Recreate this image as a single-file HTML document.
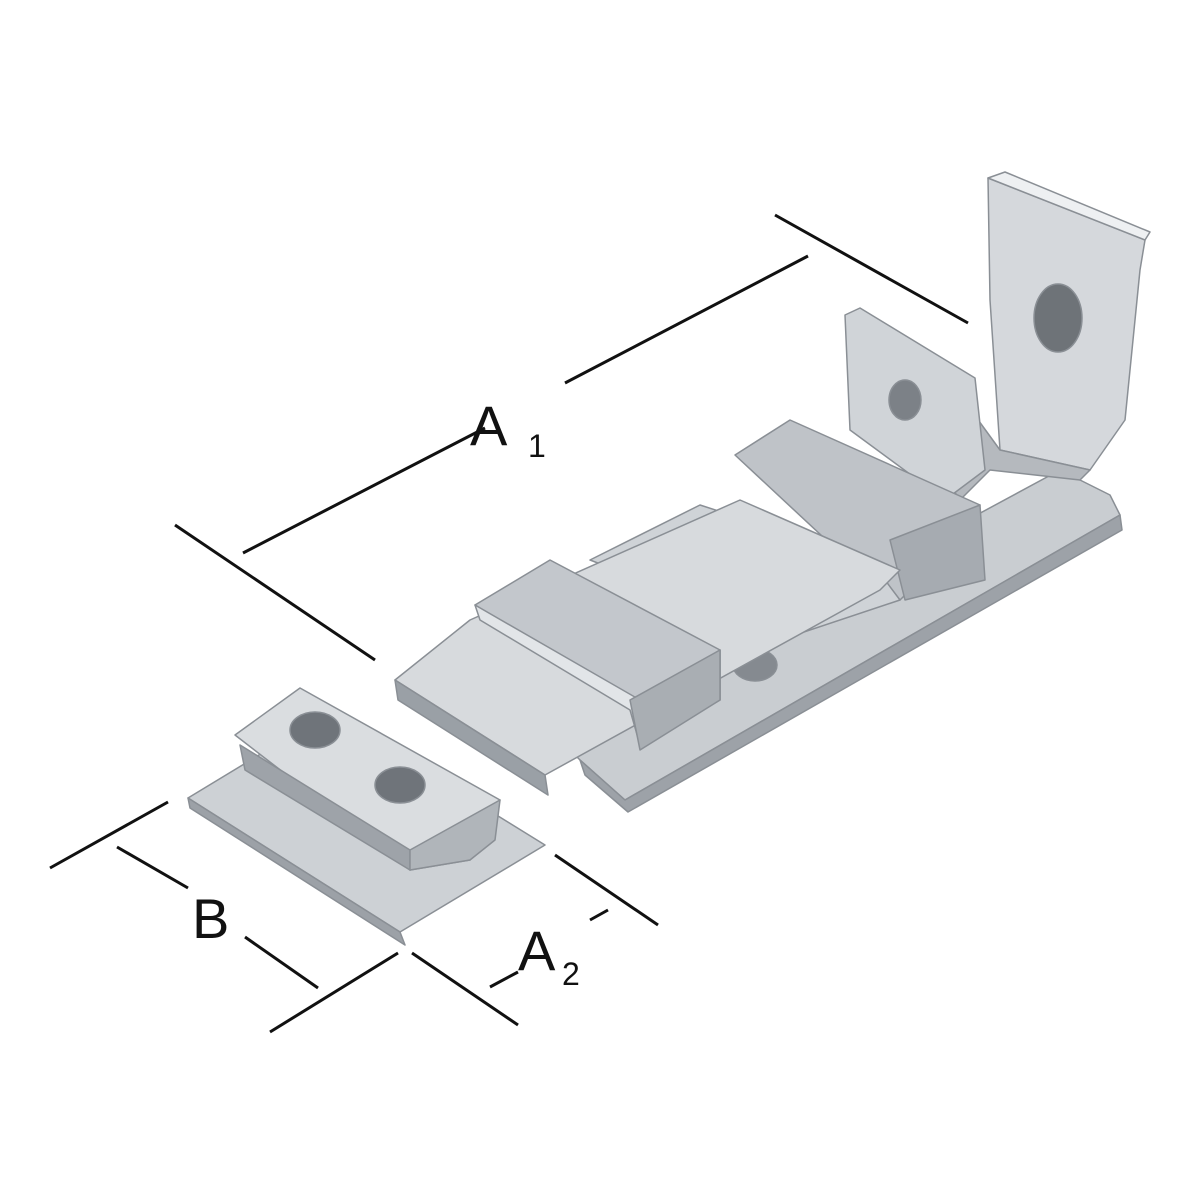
<!DOCTYPE html>
<html><head><meta charset="utf-8"><style>
html,body{margin:0;padding:0;background:#fff;}
svg{display:block}
text{font-family:"Liberation Sans",sans-serif;fill:#111}
</style></head><body>
<svg width="1200" height="1200" viewBox="0 0 1200 1200" xmlns="http://www.w3.org/2000/svg">
<g stroke="#8a8f95" stroke-width="1.5" stroke-linejoin="round">
<polygon points="580,760 625,800 1120,515 1110,495 1060,470 560,740" fill="#c9cdd1"/>
<polygon points="580,760 625,800 1120,515 1122,530 628,812 585,775" fill="#9da2a8"/>
<polygon points="988,178 1145,240 1140,270 1125,420 1090,470 1000,450 990,300" fill="#d5d8dc"/>
<polygon points="988,178 1005,172 1150,232 1145,240" fill="#eef0f2"/>
<ellipse cx="1058" cy="318" rx="24" ry="34" fill="#6e7378"/>
<polygon points="920,440 960,395 1000,450 1090,470 1080,480 990,470 960,500" fill="#b5b9be"/>
<polygon points="845,315 860,308 975,378 985,470 945,500 850,430" fill="#d0d4d8"/>
<ellipse cx="905" cy="400" rx="16" ry="20" fill="#7c8187"/>
<polygon points="735,455 790,420 980,505 940,560 900,600 880,590" fill="#bfc3c8"/>
<polygon points="890,540 980,505 985,580 905,600" fill="#a6abb1"/>
<polygon points="590,560 700,505 870,560 900,600 780,640 720,610" fill="#cfd3d7"/>
<ellipse cx="745" cy="545" rx="22" ry="30" fill="#a0a5aa"/>
<ellipse cx="755" cy="665" rx="22" ry="16" fill="#858a90"/>
<polygon points="395,680 545,775 880,590 900,570 740,500 470,620" fill="#d7dadd"/>
<polygon points="395,680 545,775 548,795 398,700" fill="#9aa0a6"/>
<polygon points="475,605 550,560 720,650 720,700 640,745 630,700" fill="#c3c7cc"/>
<polygon points="475,605 480,620 630,710 640,745 720,700 720,650 640,700" fill="#e2e5e8"/>
<polygon points="630,700 720,650 720,700 640,750" fill="#a9aeb3"/>
<polygon points="188,798 330,712 545,845 400,932" fill="#cdd1d5"/>
<polygon points="188,798 400,932 405,945 190,808" fill="#9ca1a7"/>
<polygon points="235,735 300,688 500,800 470,860 410,870" fill="#dadde0"/>
<polygon points="240,745 410,850 410,870 245,770" fill="#9ea3a9"/>
<polygon points="410,850 500,800 495,840 470,860 410,870" fill="#b0b5ba"/>
<ellipse cx="315" cy="730" rx="25" ry="18" fill="#6f747a"/>
<ellipse cx="400" cy="785" rx="25" ry="18" fill="#6f747a"/>
</g>
<g stroke="#111" stroke-width="3" fill="none">
<line x1="775" y1="215" x2="968" y2="323"/>
<line x1="565" y1="383" x2="808" y2="256"/>
<line x1="243" y1="553" x2="485" y2="428"/>
<line x1="175" y1="525" x2="375" y2="660"/>
<line x1="50" y1="868" x2="168" y2="802"/>
<line x1="117" y1="847" x2="188" y2="888"/>
<line x1="245" y1="937" x2="318" y2="988"/>
<line x1="270" y1="1032" x2="398" y2="953"/>
<line x1="412" y1="953" x2="518" y2="1025"/>
<line x1="490" y1="987" x2="518" y2="972"/>
<line x1="555" y1="855" x2="658" y2="925"/>
<line x1="590" y1="920" x2="608" y2="910"/>
</g>
<text x="470" y="445" font-size="56">A</text>
<text x="528" y="457" font-size="32">1</text>
<text x="192" y="938" font-size="56">B</text>
<text x="518" y="970" font-size="56">A</text>
<text x="562" y="985" font-size="32">2</text>
</svg>
</body></html>
